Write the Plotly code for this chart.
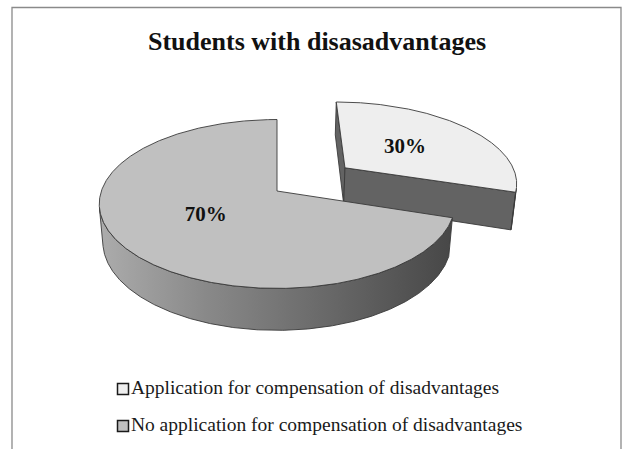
import numpy as np
import plotly.graph_objects as go

# ---- data ----
title_text = "Students with disasadvantages"
categories = ["Application for compensation of disadvantages",
              "No application for compensation of disadvantages"]
values = [30, 70]
explode = [0.50, 0.0]
top_colors = ["#eeeeee", "#c0c0c0"]

# ---- 3D projection (style constants) ----
CX, CY = 277.0, 191.0
FOC, DIST = 1010.0, 5.75
TH = np.radians(28.0)
HGT = 0.247
S, C = np.sin(TH), np.cos(TH)
CAM = np.array([0.0, -DIST * C, DIST * S])


def proj(X, Y, Z):
    X = np.asarray(X, float); Y = np.asarray(Y, float); Z = np.asarray(Z, float)
    v = Y * S + Z * C
    w = DIST + Y * C - Z * S
    return CX + FOC * X / w, CY - FOC * v / w


fig = go.Figure()
total = float(sum(values))
starts = np.concatenate([[0.0], np.cumsum(values)[:-1]]) / total * 360.0
ends = np.cumsum(values) / total * 360.0

slices = []
for i, v in enumerate(values):
    a0, a1 = starts[i], ends[i]
    mid = np.radians((a0 + a1) / 2)
    ox, oy = explode[i] * np.sin(mid), explode[i] * np.cos(mid)
    slices.append(dict(i=i, a0=a0, a1=a1, mid=mid, ox=ox, oy=oy))

order = sorted(slices, key=lambda d: -d["oy"])  # back slices first
LINE = dict(color="#3a3a3a", width=0.9)


def poly(xs, ys, **kw):
    fig.add_trace(go.Scatter(x=list(xs) + [xs[0]], y=list(ys) + [ys[0]], mode="lines",
                             fill="toself", hoverinfo="skip", showlegend=False, **kw))


for sl in order:
    i, a0, a1, ox, oy = sl["i"], sl["a0"], sl["a1"], sl["ox"], sl["oy"]
    is_main = explode[i] == 0
    # cut faces
    for a, nd in ((a0, a0 - 90), (a1, a1 + 90)):
        ar = np.radians(a)
        n = np.array([np.sin(np.radians(nd)), np.cos(np.radians(nd)), 0])
        pc = np.array([ox + 0.5 * np.sin(ar), oy + 0.5 * np.cos(ar), -HGT / 2])
        if n.dot(CAM - pc) > 1e-6:
            X = [ox, ox + np.sin(ar), ox + np.sin(ar), ox]
            Y = [oy, oy + np.cos(ar), oy + np.cos(ar), oy]
            Z = [0, 0, -HGT, -HGT]
            px, py = proj(X, Y, Z)
            poly(px, py, fillcolor="#636363", line=LINE)
    # outer wall, visible runs
    ar = np.radians(np.linspace(a0, a1, 721))
    vis = (np.sin(ar) * (CAM[0] - ox - np.sin(ar)) + np.cos(ar) * (CAM[1] - oy - np.cos(ar))) > 0
    runs, cur = [], []
    for k, ok in enumerate(vis):
        if ok:
            cur.append(k)
        elif cur:
            runs.append(cur); cur = []
    if cur:
        runs.append(cur)
    for run in runs:
        if len(run) < 2:
            continue
        rr = ar[run]
        tx, ty = proj(ox + np.sin(rr), oy + np.cos(rr), np.zeros_like(rr))
        bx, by = proj(ox + np.sin(rr), oy + np.cos(rr), np.full_like(rr, -HGT))
        xs = np.concatenate([tx, bx[::-1]]); ys = np.concatenate([ty, by[::-1]])
        if is_main:
            poly(xs, ys, fillcolor="#888888", line=LINE,
                 fillgradient=dict(type="horizontal",
                                   colorscale=[[0, "#acacac"], [0.3, "#898989"], [1, "#474747"]]))
        else:
            poly(xs, ys, fillcolor="#5a5a5a", line=LINE)
    # top face
    ang = np.radians(np.linspace(a0, a1, 721))
    X = np.concatenate([[ox], ox + np.sin(ang)])
    Y = np.concatenate([[oy], oy + np.cos(ang)])
    px, py = proj(X, Y, np.zeros_like(X))
    poly(px, py, fillcolor=top_colors[i], line=LINE)

# data labels
lx, ly, lt = [], [], []
for sl in slices:
    r = 0.48
    X = sl["ox"] + r * np.sin(sl["mid"]); Y = sl["oy"] + r * np.cos(sl["mid"])
    px, py = proj(X, Y, 0.0)
    lx.append(float(px)); ly.append(float(py))
    lt.append(f"<b>{round(100 * values[sl['i']] / total)}%</b>")
fig.add_trace(go.Scatter(x=lx, y=ly, mode="text", text=lt, hoverinfo="skip", showlegend=False,
                         textfont=dict(family="Liberation Serif", size=21, color="#111111")))

# legend (markers + text)
fig.add_trace(go.Scatter(x=[123, 123], y=[389, 426], mode="markers+text", text=categories,
                         textposition="middle right", hoverinfo="skip", showlegend=False,
                         marker=dict(symbol="square", size=11, color=top_colors,
                                     line=dict(color="#1a1a1a", width=1.5)),
                         textfont=dict(family="Liberation Serif", size=19.5, color="#1a1a1a")))

fig.add_annotation(x=317, y=41, xref="x", yref="y", text=f"<b>{title_text}</b>", showarrow=False,
                   font=dict(family="Liberation Serif", size=26, color="#111111"))

fig.add_shape(type="rect", xref="x", yref="y", x0=12, x1=621, y0=7.5, y1=470,
              line=dict(color="#8a8a8a", width=1.3), fillcolor="rgba(0,0,0,0)", layer="below")

fig.update_layout(width=626, height=449, margin=dict(l=0, r=0, t=0, b=0),
                  paper_bgcolor="white", plot_bgcolor="white",
                  xaxis=dict(range=[0, 626], visible=False, fixedrange=True),
                  yaxis=dict(range=[449, 0], visible=False, fixedrange=True),
                  showlegend=False)
fig.write_html("out.html", config={"displayModeBar": False},
               post_script="document.body.style.margin='0';")
